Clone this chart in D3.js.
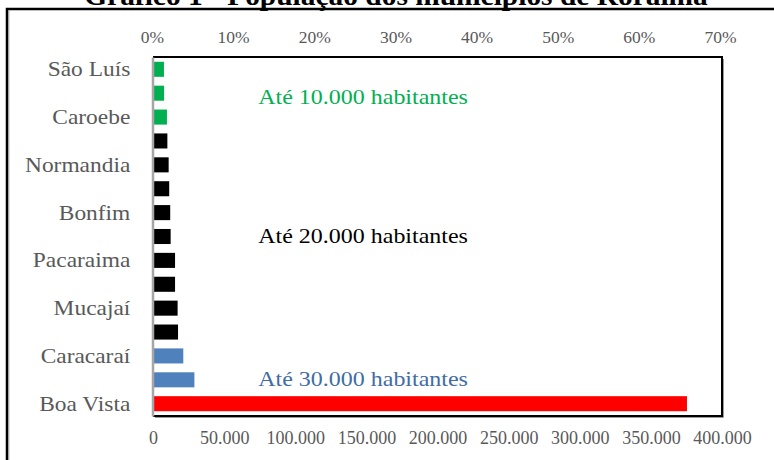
<!DOCTYPE html>
<html>
<head>
<meta charset="utf-8">
<script src="https://cdn.jsdelivr.net/npm/d3@7"></script>
<style>
  html, body { margin: 0; padding: 0; background: #fff; }
  svg { display: block; }
  text { font-family: "Liberation Serif", "Times New Roman", serif; }
</style>
</head>
<body>
<svg id="chart" width="774" height="460"></svg>
<script>
// Municípios de Roraima, do menor para o maior
const municipios = [
  "São Luís", "São João da Baliza", "Caroebe", "Uiramutã", "Normandia",
  "Iracema", "Bonfim", "Amajari", "Pacaraima", "Alto Alegre",
  "Mucajaí", "Cantá", "Caracaraí", "Rorainópolis", "Boa Vista"
];
// População estimada (habitantes)
const populacao = [
  7700, 7800, 9800, 10100, 11000,
  11400, 12100, 12400, 15500, 15500,
  17300, 17600, 21300, 29100, 375374
];
// Faixa populacional de cada município
const faixa = [
  "10k", "10k", "10k", "20k", "20k",
  "20k", "20k", "20k", "20k", "20k",
  "20k", "20k", "30k", "30k", "capital"
];
const faixaCor = { "10k": "#00B050", "20k": "#000000", "30k": "#4F81BD", "capital": "#FF0000" };

const ticksPopulacao = [0, 50000, 100000, 150000, 200000, 250000, 300000, 350000, 400000];
const ticksPercentual = [0, 0.1, 0.2, 0.3, 0.4, 0.5, 0.6, 0.7];

const anotacoes = [
  { texto: "Até 10.000 habitantes", linha: 1, cor: "#00B050", dy: 4 },
  { texto: "Até 20.000 habitantes", linha: 7, cor: "#000000", dy: -1 },
  { texto: "Até 30.000 habitantes", linha: 13, cor: "#3F6CA5", dy: -1 }
];

const titulo = "Gráfico 1 - População dos municípios de Roraima";

const svg = d3.select("#chart");
const W = 774, H = 460;
const plot = { left: 153, right: 722, top: 57, bottom: 416 };
const stretch = 1.09;   // texto levemente alargado na horizontal
const cinza = "#595959";

const br = d3.formatLocale({ decimal: ",", thousands: ".", grouping: [3], currency: ["R$", ""] });
const fmtPop = br.format(",.0f");
const fmtPct = br.format(".0%");

const x = d3.scaleLinear().domain([0, 400000]).range([plot.left, plot.right]);
const xPct = d3.scaleLinear().domain([0, 0.7]).range([plot.left - 1, plot.right - 2]);
const y = d3.scaleBand().domain(municipios).range([plot.top, plot.bottom])
  .paddingInner(0.37).paddingOuter(0.2);

// Moldura externa
svg.append("path")
  .attr("d", `M7,${H + 20} L7,9 L${W + 20},9`)
  .attr("fill", "none").attr("stroke", "#000").attr("stroke-width", 2.5);
svg.append("path")
  .attr("d", `M8.8,${H + 20} L8.8,10.8`)
  .attr("fill", "none").attr("stroke", "#9a9a9a").attr("stroke-width", 1);

// Título
svg.append("text")
  .attr("transform", `translate(${W / 2 + 9},5) scale(${stretch},1)`)
  .attr("text-anchor", "middle")
  .attr("font-size", 27).attr("font-weight", "bold").attr("fill", "#000")
  .text(titulo);

// Área do gráfico: contorno
svg.append("path")
  .attr("d", `M${plot.left},${plot.top} L${plot.right},${plot.top} L${plot.right},${plot.bottom} L${plot.left},${plot.bottom}`)
  .attr("fill", "none").attr("stroke", "#000").attr("stroke-width", 2);
svg.append("path")
  .attr("d", `M${plot.right + 1.5},${plot.top + 2} L${plot.right + 1.5},${plot.bottom + 1.5} L${plot.left + 2},${plot.bottom + 1.5}`)
  .attr("fill", "none").attr("stroke", "#9a9a9a").attr("stroke-width", 1);

// Barras
svg.append("g").selectAll("rect")
  .data(municipios)
  .join("rect")
  .attr("x", x(0))
  .attr("y", d => y(d))
  .attr("width", (d, i) => x(populacao[i]) - x(0))
  .attr("height", y.bandwidth())
  .attr("fill", (d, i) => faixaCor[faixa[i]]);

// Eixo vertical (rótulos alternados)
const eixoY = svg.append("g")
  .attr("transform", `translate(${plot.left - 0.5},0)`)
  .call(d3.axisLeft(y).tickSize(0).tickPadding(20)
    .tickFormat((d, i) => (i % 2 === 0 ? d : "")));
eixoY.select(".domain").attr("stroke", "#a6a6a6").attr("stroke-width", 2.5);
eixoY.selectAll("text")
  .attr("font-size", 21.5).attr("fill", cinza)
  .attr("transform", `scale(${stretch},1)`)
  .attr("x", -20 / stretch - 2);

// Eixo superior (percentual)
const eixoTopo = svg.append("g")
  .attr("transform", `translate(0,${plot.top})`)
  .call(d3.axisTop(xPct).tickValues(ticksPercentual).tickSize(0).tickFormat(fmtPct));
eixoTopo.select(".domain").remove();
eixoTopo.selectAll(".tick text")
  .attr("font-size", 17.5).attr("fill", cinza)
  .attr("y", -14).attr("dy", 0);

// Eixo inferior (habitantes)
const eixoBase = svg.append("g")
  .attr("transform", `translate(0,${plot.bottom})`)
  .call(d3.axisBottom(x).tickValues(ticksPopulacao).tickSize(0).tickFormat(fmtPop));
eixoBase.select(".domain").remove();
eixoBase.selectAll(".tick text")
  .attr("font-size", 18).attr("fill", cinza)
  .attr("y", 28).attr("dy", 0);

// Anotações das faixas
svg.append("g").selectAll("text")
  .data(anotacoes)
  .join("text")
  .attr("transform", d => `translate(${x(74000)},${y(municipios[d.linha]) + y.bandwidth() / 2 + 7 + d.dy}) scale(${stretch},1)`)
  .attr("font-size", 22)
  .attr("fill", d => d.cor)
  .text(d => d.texto);
</script>
</body>
</html>
